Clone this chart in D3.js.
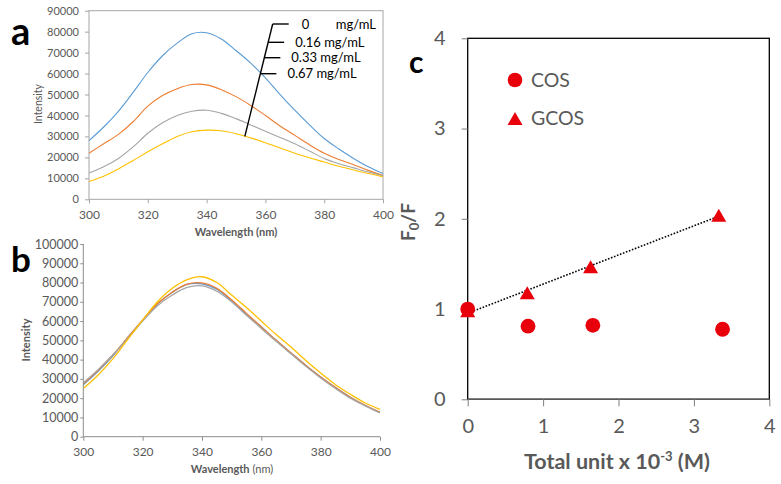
<!DOCTYPE html>
<html><head><meta charset="utf-8">
<script src="https://cdn.jsdelivr.net/npm/d3@7/dist/d3.min.js"></script>
<style>
body{margin:0;background:#fff;}
svg text{font-family:Lato,"Open Sans",sans-serif;}
</style>
</head><body>
<svg id="chart" width="781" height="484"></svg>
<script>
// ---------- DATA ----------
const wavelengths = [300,305,310,315,320,325,330,335,340,345,350,355,360,365,370,375,380,385,390,395,400];
const concLabels = ["0", "0.16", "0.33", "0.67"];
const seriesColors = ["#5B9BD5", "#ED7D31", "#A5A5A5", "#FFC000"];
// panel a: intensity for each concentration
const a0   = [28000,34500,42000,51000,60500,68500,74500,79000,79500,76500,71000,65000,58000,50000,42500,35500,29000,24000,19500,15500,12300];
const a016 = [22000,26500,31000,37000,44500,49500,52800,54800,54600,52300,49000,44800,40000,35000,30500,26000,22000,19000,16500,13800,11300];
const a033 = [12500,15500,19500,25000,31500,36500,40000,42000,42500,41000,38500,35500,32500,29500,26500,23000,19500,17000,15000,13000,11200];
const a067 = [8500,11000,14500,18500,22700,26500,30000,32200,33000,32700,31300,29300,27000,24500,22000,19800,17800,15800,14000,12300,10800];
// panel b
const b1 = [27000,34000,42000,51500,60500,69000,75000,79000,79300,76500,70500,63500,57000,50000,43500,37000,31000,25500,20500,16200,12600];
const b2 = [27500,34500,42500,51500,60500,69000,75000,79200,79800,77000,71000,64000,57000,50000,43500,37000,31000,25500,20500,16300,12700];
const b3 = [28000,34800,42500,51000,60000,68000,73500,77500,78300,75500,70000,63000,56200,49500,43000,36500,30500,25000,20000,16000,12300];
const b4 = [25000,32000,40500,50500,60500,70000,77000,81500,83000,80000,73500,67000,60000,53000,46500,39500,33000,27000,22000,17500,14200];
// panel c
const cosX  = [0, 0.80, 1.66, 3.38];
const cosY  = [1.0, 0.81, 0.82, 0.776];
const gcosX = [0, 0.79, 1.63, 3.33];
const gcosY = [0.98, 1.18, 1.47, 2.04];
const ticksA = [0,10000,20000,30000,40000,50000,60000,70000,80000,90000];
const ticksB = [0,10000,20000,30000,40000,50000,60000,70000,80000,90000,100000];
const ticksWl = [300,320,340,360,380,400];
const ticksC = [0,1,2,3,4];

const svg = d3.select("#chart");
const TXT = "#595959";

function styleAxis(g, col){
  g.select(".domain").remove();
  g.selectAll(".tick line").attr("stroke", col);
  g.selectAll(".tick text").attr("fill", TXT);
}

// ---------- PANEL A ----------
const xa = d3.scaleLinear().domain([300,400]).range([89,383]);
const ya = d3.scaleLinear().domain([0,90000]).range([199.3,10.7]);
const ga = svg.append("g");
ga.append("rect").attr("x",xa(300)).attr("y",ya(90000)).attr("width",xa(400)-xa(300)).attr("height",ya(0)-ya(90000))
  .attr("fill","none").attr("stroke","#a6a6a6").attr("stroke-width",1);
const aSeries = [a0,a016,a033,a067];
const lineA = d3.line().x((d,i)=>xa(wavelengths[i])).y(d=>ya(d)).curve(d3.curveCatmullRom);
aSeries.forEach((s,k)=>{
  ga.append("path").attr("d",lineA(s)).attr("fill","none").attr("stroke",seriesColors[k]).attr("stroke-width",1.1);
});
ga.append("g").attr("transform",`translate(${xa(300)},0)`)
  .call(d3.axisLeft(ya).tickValues(ticksA).tickSize(4).tickPadding(6).tickFormat(d3.format("d")))
  .call(g=>styleAxis(g,"#a6a6a6")).selectAll("text").attr("font-size",11);
ga.append("g").attr("transform",`translate(0,${ya(0)})`)
  .call(d3.axisBottom(xa).tickValues(ticksWl).tickSize(4).tickPadding(7))
  .call(g=>styleAxis(g,"#a6a6a6")).selectAll("text").attr("font-size",12);
ga.append("text").attr("x",236).attr("y",236).attr("text-anchor","middle").attr("font-size",11)
  .attr("font-weight","bold").attr("fill",TXT).text("Wavelength (nm)");
ga.append("text").attr("transform","translate(42,104) rotate(-90)").attr("text-anchor","middle")
  .attr("font-size",10.5).attr("fill",TXT).text("Intensity");
ga.append("text").attr("x",11).attr("y",45).attr("font-size",38).attr("font-weight","bold").attr("fill","#000").text("a");
// annotation legend
const legBase = [xa(353), ya(30000)];
const legTop = [272.7, 24];
ga.append("line").attr("x1",legBase[0]).attr("y1",legBase[1]).attr("x2",legTop[0]).attr("y2",legTop[1])
  .attr("stroke","#000").attr("stroke-width",1.4);
const legYs = [24, 42.3, 57.7, 73.7];
const slope = (legTop[0]-legBase[0])/(legBase[1]-legTop[1]);
legYs.forEach((ly,k)=>{
  const lx = legBase[0] + (legBase[1]-ly)*slope;
  ga.append("line").attr("x1",lx).attr("y1",ly).attr("x2",lx+16).attr("y2",ly).attr("stroke","#000").attr("stroke-width",1.4);
  if(k===0){
    ga.append("text").attr("x",lx+29).attr("y",ly+4.5).attr("font-size",13).attr("fill","#000").text(concLabels[k]);
    ga.append("text").attr("x",376).attr("y",ly+4.5).attr("text-anchor","end").attr("font-size",13).attr("fill","#000").text("mg/mL");
  } else {
    ga.append("text").attr("x",lx+27).attr("y",ly+4.5).attr("font-size",13).attr("fill","#000").text(concLabels[k]+" mg/mL");
  }
});

// ---------- PANEL B ----------
const xb = d3.scaleLinear().domain([300,400]).range([83.3,380]);
const yb = d3.scaleLinear().domain([0,100000]).range([436.7,244]);
const gb = svg.append("g");
const lineB = d3.line().x((d,i)=>xb(wavelengths[i])).y(d=>yb(d)).curve(d3.curveCatmullRom);
[b1,b2,b3,b4].forEach((s,k)=>{
  gb.append("path").attr("d",lineB(s)).attr("fill","none").attr("stroke",seriesColors[k]).attr("stroke-width",1.3);
});
gb.append("line").attr("x1",xb(300)).attr("x2",xb(300)).attr("y1",yb(0)).attr("y2",yb(100000)).attr("stroke","#8c8c8c");
gb.append("line").attr("x1",xb(300)).attr("x2",xb(400)).attr("y1",yb(0)).attr("y2",yb(0)).attr("stroke","#8c8c8c");
gb.append("g").attr("transform",`translate(${xb(300)},0)`)
  .call(d3.axisLeft(yb).tickValues(ticksB).tickSize(3).tickPadding(2).tickFormat(d3.format("d")))
  .call(g=>styleAxis(g,"#8c8c8c")).selectAll("text").attr("font-size",12.5);
gb.append("g").attr("transform",`translate(0,${yb(0)})`)
  .call(d3.axisBottom(xb).tickValues(ticksWl).tickSize(4).tickPadding(7))
  .call(g=>styleAxis(g,"#8c8c8c")).selectAll("text").attr("font-size",12);
const wt = gb.append("text").attr("x",232).attr("y",473).attr("text-anchor","middle").attr("font-size",11).attr("fill",TXT);
wt.append("tspan").attr("font-weight","bold").text("Wavelength");
wt.append("tspan").text(" (nm)");
gb.append("text").attr("transform","translate(30,340) rotate(-90)").attr("text-anchor","middle")
  .attr("font-size",11).attr("font-weight","bold").attr("fill",TXT).text("Intensity");
gb.append("text").attr("x",11).attr("y",272).attr("font-size",35).attr("font-weight","bold").attr("fill","#000").text("b");

// ---------- PANEL C ----------
const xc = d3.scaleLinear().domain([0,4]).range([467.7,769.3]);
const yc = d3.scaleLinear().domain([0,4]).range([399.3,38.3]);
const gc = svg.append("g");
gc.append("rect").attr("x",xc(0)).attr("y",yc(4)).attr("width",xc(4)-xc(0)).attr("height",yc(0)-yc(4))
  .attr("fill","none").attr("stroke","#000").attr("stroke-width",1.3);
gc.append("line").attr("x1",xc(0)).attr("x2",xc(4)).attr("y1",yc(0)).attr("y2",yc(0)).attr("stroke","#595959").attr("stroke-width",1.5);
gc.append("g").attr("transform",`translate(${xc(0)},0)`)
  .call(d3.axisLeft(yc).tickValues(ticksC).tickSize(6).tickPadding(16).tickFormat(d3.format("d")))
  .call(g=>styleAxis(g,"#7f7f7f")).selectAll("text").attr("font-size",20);
gc.append("g").attr("transform",`translate(0,${yc(0)})`)
  .call(d3.axisBottom(xc).tickValues(ticksC).tickSize(7).tickPadding(13).tickFormat(d3.format("d")))
  .call(g=>styleAxis(g,"#7f7f7f")).selectAll("text").attr("font-size",20);
// trendline (least squares of GCOS)
const mx = d3.mean(gcosX), my = d3.mean(gcosY);
const sl = d3.sum(gcosX.map((x,i)=>(x-mx)*(gcosY[i]-my))) / d3.sum(gcosX.map(x=>(x-mx)*(x-mx)));
const ic = my - sl*mx;
const x0 = d3.min(gcosX), x1 = d3.max(gcosX);
gc.append("line").attr("x1",xc(x0)).attr("y1",yc(ic+sl*x0)).attr("x2",xc(x1)).attr("y2",yc(ic+sl*x1))
  .attr("stroke","#000").attr("stroke-width",1.6).attr("stroke-dasharray","1.6,1.6");
const RED = "#E8000B";
const tri = (cx,cy,w,h)=>`M${cx},${cy-h/2}L${cx+w/2},${cy+h/2}L${cx-w/2},${cy+h/2}Z`;
gc.selectAll(".tri").data(gcosX).enter().append("path")
  .attr("d",(d,i)=>tri(xc(d),yc(gcosY[i]),15,13)).attr("fill",RED);
gc.selectAll(".cir").data(cosX).enter().append("circle")
  .attr("cx",d=>xc(d)).attr("cy",(d,i)=>yc(cosY[i])).attr("r",7.4).attr("fill",RED);
// legend
gc.append("circle").attr("cx",515).attr("cy",80).attr("r",7.3).attr("fill",RED);
gc.append("path").attr("d",tri(515,118.5,15,13)).attr("fill",RED);
gc.append("text").attr("x",531).attr("y",87).attr("font-size",19.5).attr("fill",TXT).text("COS");
gc.append("text").attr("x",531).attr("y",125).attr("font-size",19.5).attr("fill",TXT).text("GCOS");
// axis titles
const xt = gc.append("text").attr("x",617).attr("y",469).attr("text-anchor","middle").attr("font-size",21.5)
  .attr("font-weight","bold").attr("fill",TXT);
xt.append("tspan").text("Total unit x 10");
xt.append("tspan").attr("dy",-8).attr("font-size",13).text("-3");
xt.append("tspan").attr("dy",8).text(" (M)");
const yt = gc.append("text").attr("transform","translate(415,222) rotate(-90)").attr("text-anchor","middle")
  .attr("font-size",19).attr("font-weight","bold").attr("fill",TXT);
yt.append("tspan").text("F");
yt.append("tspan").attr("dy",4).attr("font-size",13).text("0");
yt.append("tspan").attr("dy",-4).text("/F");
gc.append("text").attr("x",409).attr("y",73).attr("font-size",30).attr("font-weight","bold").attr("fill","#000").text("c");
</script>
</body></html>
